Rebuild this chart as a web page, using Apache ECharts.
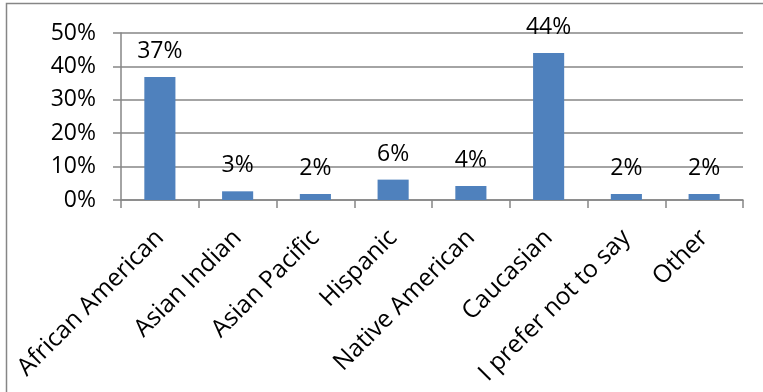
<!DOCTYPE html>
<html>
<head>
<meta charset="utf-8">
<script src="https://cdn.jsdelivr.net/npm/echarts@6/dist/echarts.min.js"></script>
<style>
  html, body { margin: 0; padding: 0; background: #ffffff; }
  #chart { width: 763px; height: 392px; }
</style>
</head>
<body>
<div id="chart"></div>
<script>
// Survey respondents by ethnicity (percent)
const categories = ['African American', 'Asian Indian', 'Asian Pacific', 'Hispanic',
  'Native American', 'Caucasian', 'I prefer not to say', 'Other'];
const shares = [36.8, 2.6, 1.8, 6.1, 4.2, 44.0, 1.8, 1.8];
const yTicks = [0, 10, 20, 30, 40, 50];

const FONT = '"Open Sans", "Liberation Sans", sans-serif';
const GRAY = '#868686';

const chart = echarts.init(document.getElementById('chart'), null, { renderer: 'canvas' });

chart.setOption({
  animation: false,
  backgroundColor: '#ffffff',
  grid: { left: 121, right: 20, top: 33, bottom: 192, containLabel: false },
  graphic: [{
    type: 'rect',
    shape: { x: 6.5, y: 3.5, width: 800, height: 500 },
    style: { fill: 'none', stroke: GRAY, lineWidth: 1.5 },
    silent: true
  }],
  xAxis: {
    type: 'category',
    data: categories,
    boundaryGap: true,
    axisLine: { show: true, lineStyle: { color: GRAY, width: 1.5 } },
    axisTick: { show: true, alignWithLabel: false, length: 8, lineStyle: { color: GRAY, width: 1.5 } },
    axisLabel: {
      rotate: 45,
      interval: 0,
      margin: 34,
      color: '#000000',
      fontFamily: FONT,
      fontSize: 24.5
    },
    splitLine: { show: false }
  },
  yAxis: {
    type: 'value',
    min: yTicks[0],
    max: yTicks[yTicks.length - 1],
    interval: 10,
    axisLine: { show: true, lineStyle: { color: GRAY, width: 1.5 } },
    axisTick: { show: true, length: 8, lineStyle: { color: GRAY, width: 1.5 } },
    axisLabel: {
      margin: 25,
      color: '#000000',
      fontFamily: FONT,
      fontSize: 23,
      formatter: v => v + '%'
    },
    splitLine: { show: true, lineStyle: { color: GRAY, width: 1.5 } }
  },
  series: [{
    type: 'bar',
    data: shares,
    barWidth: '40%',
    itemStyle: { color: '#4F81BD' },
    label: {
      show: true,
      position: 'top',
      distance: 13,
      color: '#000000',
      fontFamily: FONT,
      fontSize: 23,
      lineHeight: 25,
      formatter: p => Math.round(p.value) + '%'
    }
  }]
});
</script>
</body>
</html>
